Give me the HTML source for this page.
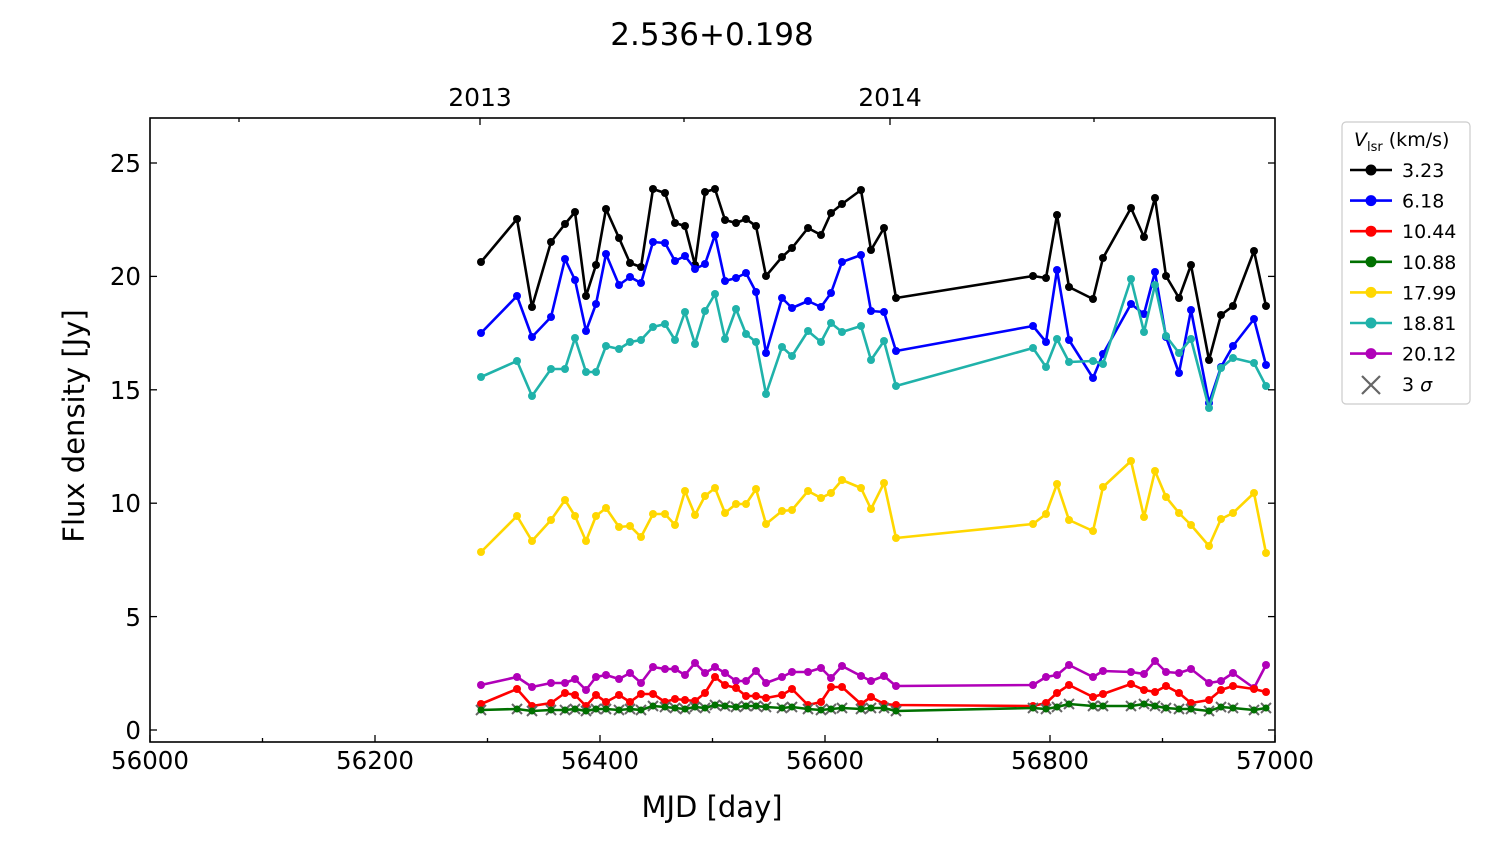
<!DOCTYPE html>
<html><head><meta charset="utf-8"><style>
body{margin:0;background:#fff;}
svg{display:block;font-family:"DejaVu Sans","Liberation Sans",sans-serif;}
</style></head><body>
<svg id="s" width="1500" height="844" viewBox="0 0 1500 844" xmlns="http://www.w3.org/2000/svg">
<rect width="1500" height="844" fill="#fff"/>
<text x="712" y="45" font-size="31" text-anchor="middle">2.536+0.198</text>
<g id="data"></g>
<rect x="150" y="118" width="1125" height="624" fill="none" stroke="#000" stroke-width="1.6"/>
<g id="ticks" stroke="#000" stroke-width="1.3"></g>
<g font-size="24.5" text-anchor="middle">
<text x="150" y="769">56000</text><text x="375" y="769">56200</text><text x="600" y="769">56400</text>
<text x="825" y="769">56600</text><text x="1050" y="769">56800</text><text x="1275" y="769">57000</text>
</g>
<g font-size="25" text-anchor="middle">
<text x="480" y="106">2013</text><text x="890" y="106">2014</text>
</g>
<g font-size="24.5" text-anchor="end">
<text x="141" y="739">0</text><text x="141" y="626">5</text><text x="141" y="512">10</text>
<text x="141" y="399">15</text><text x="141" y="285">20</text><text x="141" y="172">25</text>
</g>
<text x="712" y="817" font-size="29" text-anchor="middle">MJD [day]</text>
<text transform="translate(84,426) rotate(-90)" font-size="29" text-anchor="middle">Flux density [Jy]</text>
<g>
<rect x="1342" y="122" width="128" height="282" rx="4" fill="#fff" stroke="#ccc" stroke-width="1.2"/>
<text x="1354" y="146" font-size="19"><tspan font-style="italic">V</tspan><tspan font-size="13" dy="5">lsr</tspan><tspan dy="-5"> (km/s)</tspan></text>
<g id="leg"></g>
<g stroke="#666" stroke-width="2.2"><line x1="1362" y1="376" x2="1380" y2="394"/><line x1="1362" y1="394" x2="1380" y2="376"/></g>
<text x="1402" y="391" font-size="19">3 <tspan font-style="italic">σ</tspan></text>
</g>
</svg>
<script>
const X=[481,517,532,551,565,575,586,596,606,619,630,641,653,665,675,685,695,705,715,725,736,746,756,766,782,792,808,821,831,842,861,871,884,896,1033,1046,1057,1069,1093,1103,1131,1144,1155,1166,1179,1191,1209,1221,1233,1254,1266];
const S=[
["#000","3.23",[262,219,307,242,224,212,296,265,209,238,263,267,189,193,223,226,265,192,189,220,223,219,226,276,257,248,228,235,213,204,190,250,228,298,276,278,215,287,299,258,208,237,198,276,298,265,360,315,306,251,306]],
["#0000ff","6.18",[333,296,337,317,259,280,331,304,254,285,277,283,242,243,261,256,269,264,235,281,278,273,292,353,298,308,301,307,293,262,255,311,312,351,326,342,270,340,378,354,304,314,272,337,373,310,403,367,346,319,365]],
["#ff0000","10.44",[704,689,706,703,693,695,706,695,702,695,702,694,694,702,699,700,701,693,677,685,688,696,696,698,695,689,705,702,687,687,704,697,704,705,706,703,693,685,697,694,684,690,692,686,693,703,700,690,686,689,692]],
["#007000","10.88",[710,709,711,710,710,709,711,709,709,710,709,710,706,707,708,709,707,708,705,706,707,706,706,707,708,707,709,710,709,708,709,708,708,711,708,709,707,704,706,706,706,704,706,708,709,709,711,707,708,710,708]],
["#ffd700","17.99",[552,516,541,520,500,516,541,516,508,527,526,537,514,514,525,491,515,496,488,513,504,504,489,524,511,510,491,498,493,480,488,509,483,538,524,514,484,520,531,487,461,517,471,497,513,525,546,519,513,493,553]],
["#20b2aa","18.81",[377,361,396,369,369,338,372,372,346,349,342,340,327,324,340,312,344,311,294,339,309,334,342,394,347,356,331,342,323,332,326,360,341,386,348,367,339,362,361,364,279,332,285,336,353,339,408,368,358,363,386]],
["#b000b8","20.12",[685,677,687,683,683,679,690,677,675,679,673,683,667,669,669,675,663,673,667,673,681,681,671,683,677,672,672,668,678,666,676,681,676,686,685,677,675,665,677,671,672,674,661,672,673,669,683,681,673,688,665]]
];
const ns="http://www.w3.org/2000/svg",d=document.getElementById("data");
function el(t,a,p){const e=document.createElementNS(ns,t);for(const k in a)e.setAttribute(k,a[k]);p.appendChild(e);return e;}
const order=[0,1,5,4,6,2,3];
order.forEach(i=>{const [c,,Y]=S[i];
el("polyline",{points:X.map((x,j)=>x+","+Y[j]).join(" "),fill:"none",stroke:c,"stroke-width":2.6,"stroke-linejoin":"round"},d);
X.forEach((x,j)=>{ if(i==3){el("path",{d:`M${x-5} ${Y[j]-5}L${x+5} ${Y[j]+5}M${x-5} ${Y[j]+5}L${x+5} ${Y[j]-5}`,stroke:"#666","stroke-width":2},d);}
el("circle",{cx:x,cy:Y[j],r:i==3?3.5:4,fill:c},d);});
});
const g=document.getElementById("leg");
S.forEach((s,i)=>{const y=170+i*30.6;
el("line",{x1:1350,y1:y,x2:1392,y2:y,stroke:s[0],"stroke-width":2.6},g);
el("circle",{cx:1371,cy:y,r:5.5,fill:s[0]},g);
const t=el("text",{x:1402,y:y+7,"font-size":19},g);t.textContent=s[1];});
const tk=document.getElementById("ticks");
for(let i=0;i<=10;i++){const x=150+i*112.5,L=i%2?4:7;
el("line",{x1:x,y1:742,x2:x,y2:742-L},tk);}
[239,480,684,890,1094].forEach((x,i)=>el("line",{x1:x,y1:118,x2:x,y2:118+(i%2?7:4)},tk));
for(let v=0;v<=25;v+=5){const y=730-v*22.68;
el("line",{x1:150,y1:y,x2:157,y2:y},tk);el("line",{x1:1275,y1:y,x2:1268,y2:y},tk);}
</script>
</body></html>
